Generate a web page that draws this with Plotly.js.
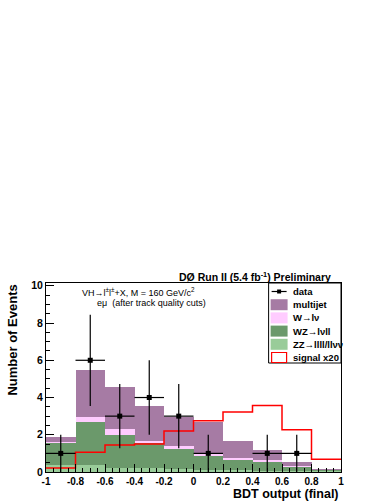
<!DOCTYPE html>
<html><head><meta charset="utf-8">
<script src="https://cdn.plot.ly/plotly-3.0.1.min.js"></script>
<style>body{margin:0;padding:0;background:#fff}#c{width:388px;height:502px}</style>
</head><body><div id="c"></div>
<script>
const binCenters=[-0.9,-0.7,-0.5,-0.3,-0.1,0.1,0.3,0.5,0.7,0.9];
const binEdges=[-1,-0.8,-0.6,-0.4,-0.2,0,0.2,0.4,0.6,0.8,1];
const zz=[0.40,0.38,0.23,0.20,0.15,0.12,0.10,0.08,0.05,0.03];
const wz=[1.14,2.30,1.77,1.38,1.07,0.74,0.55,0.46,0.20,0.07];
const wlv=[0.06,0.25,0.30,0.10,0.18,0.11,0.09,0.11,0.05,0.02];
const multijet=[0.30,2.54,2.28,1.85,1.55,1.70,0.90,0.54,0.26,0.03];
const signal=[0.22,1.06,1.45,1.50,2.20,2.75,3.22,3.57,2.27,0.69];
const dataX=[-0.9,-0.7,-0.5,-0.3,-0.1,0.1,0.5,0.7];
const dataY=[1,6,3,4,3,1,1,1];
const dataErr=[1,2.45,1.73,2,1.73,1,1,1];

const cMulti='#a67ba4', cW='#ffccff', cWZ='#6b996b', cZZ='#99cc99', cSig='#ff0000';
function bar(y,color){return {type:'bar',x:binCenters,y:y,width:0.2,marker:{color:color,line:{width:0}},showlegend:false,hoverinfo:'skip'};}
const sigY=signal.concat([signal[signal.length-1]]);
const traces=[
 bar(zz,cZZ), bar(wz,cWZ), bar(wlv,cW), bar(multijet,cMulti),
 {type:'scatter',mode:'lines',x:binEdges,y:sigY,line:{shape:'hv',color:cSig,width:1.5},showlegend:false,hoverinfo:'skip',cliponaxis:true},
 {type:'scatter',mode:'markers',x:dataX,y:dataY,marker:{symbol:'square',size:5,color:'#000'},
  error_x:{type:'constant',value:0.1,color:'#000',thickness:1.2,width:0},
  error_y:{type:'data',array:dataErr,color:'#000',thickness:1.2,width:0},showlegend:false,hoverinfo:'skip'}
];
const F='Liberation Sans, Arial, sans-serif';
const PL=46,PR=341.5,PT=283,PB=472;
function px(x){return (x-PL)/(PR-PL);} function py(y){return (PB-y)/(PB-PT);}
const lgL=269,lgR=341.5,lgT=283,lgB=363;
const items=[
 {name:'data',type:'data'},
 {name:'multijet',color:cMulti},
 {name:'W→lν',color:cW},
 {name:'WZ→lνll',color:cWZ},
 {name:'ZZ→llll/llνν',color:cZZ},
 {name:'signal x20',type:'sig'}
];
const shapes=[{type:'rect',xref:'paper',yref:'paper',x0:px(lgL),x1:px(lgR),y0:py(lgB),y1:py(lgT),line:{color:'#000',width:1},fillcolor:'#fff'}];
const ann=[];
items.forEach((it,i)=>{
  const yc=lgT+8.5+i*13.2;
  if(it.type==='data'){
    shapes.push({type:'line',xref:'paper',yref:'paper',x0:px(272),x1:px(287),y0:py(yc),y1:py(yc),line:{color:'#000',width:1.2}});
    shapes.push({type:'rect',xref:'paper',yref:'paper',x0:px(277.5),x1:px(281.5),y0:py(yc+2),y1:py(yc-2),line:{width:0},fillcolor:'#000'});
  } else if(it.type==='sig'){
    shapes.push({type:'rect',xref:'paper',yref:'paper',x0:px(272),x1:px(287),y0:py(yc+5),y1:py(yc-5),line:{color:cSig,width:1.2},fillcolor:'rgba(0,0,0,0)'});
  } else {
    shapes.push({type:'rect',xref:'paper',yref:'paper',x0:px(271),x1:px(288),y0:py(yc+5.5),y1:py(yc-5.5),line:{width:0},fillcolor:it.color});
  }
  ann.push({xref:'paper',yref:'paper',x:px(291),y:py(yc),xanchor:'left',yanchor:'middle',showarrow:false,text:it.name,font:{family:F,size:9.5,color:'#000',weight:'bold'}});
});
ann.push({xref:'paper',yref:'paper',x:px(333.5),y:py(276.5),xanchor:'right',yanchor:'middle',showarrow:false,
  text:'DØ Run II (5.4 fb<sup>-1</sup>) Preliminary',font:{family:F,size:10.5,color:'#000',weight:'bold'}});
ann.push({xref:'paper',yref:'paper',x:px(80),y:py(292),xanchor:'left',yanchor:'middle',showarrow:false,
  text:'VH→l<sup>±</sup>l<sup>±</sup>+X, M = 160 GeV/c<sup>2</sup>',font:{family:F,size:9,color:'#000'}});
ann.push({xref:'paper',yref:'paper',x:px(95),y:py(303),xanchor:'left',yanchor:'middle',showarrow:false,
  text:'eμ  (after track quality cuts)',font:{family:F,size:9,color:'#000'}});
ann.push({xref:'paper',yref:'paper',x:px(341.5),y:py(494),xanchor:'right',yanchor:'middle',showarrow:false,
  text:'BDT output (final)',font:{family:F,size:12.5,color:'#000',weight:'bold'}});
ann.push({xref:'paper',yref:'paper',x:px(12),y:py(283),xanchor:'center',yanchor:'top',textangle:-90,showarrow:false,
  text:'Number of Events',font:{family:F,size:13,color:'#000',weight:'bold'}});
const layout={
  width:388,height:502,paper_bgcolor:'#fff',plot_bgcolor:'#fff',
  margin:{l:PL,r:388-PR,t:PT,b:502-PB,pad:0},
  barmode:'stack',bargap:0,showlegend:false,
  xaxis:{range:[-1,1],tickvals:[-1,-0.8,-0.6,-0.4,-0.2,0,0.2,0.4,0.6,0.8,1],ticktext:['-1','-0.8','-0.6','-0.4','-0.2','0','0.2','0.4','0.6','0.8','1'],
    ticks:'inside',ticklen:8,tickcolor:'#000',tickwidth:1,showgrid:false,zeroline:false,showline:true,linecolor:'#000',linewidth:1,mirror:true,
    minor:{dtick:0.05,ticks:'inside',ticklen:4,tickcolor:'#000',showgrid:false},
    tickfont:{family:F,size:10,color:'#000',weight:'bold'}},
  yaxis:{range:[0,10.15],tickvals:[0,2,4,6,8,10],ticks:'inside',ticklen:8,tickcolor:'#000',showgrid:false,zeroline:false,showline:true,linecolor:'#000',linewidth:1,mirror:true,
    minor:{dtick:0.5,ticks:'inside',ticklen:4,tickcolor:'#000',showgrid:false},
    tickfont:{family:F,size:10.5,color:'#000',weight:'bold'}},
  shapes:shapes,annotations:ann
};
Plotly.newPlot('c',traces,layout,{staticPlot:true,displayModeBar:false});
</script></body></html>
